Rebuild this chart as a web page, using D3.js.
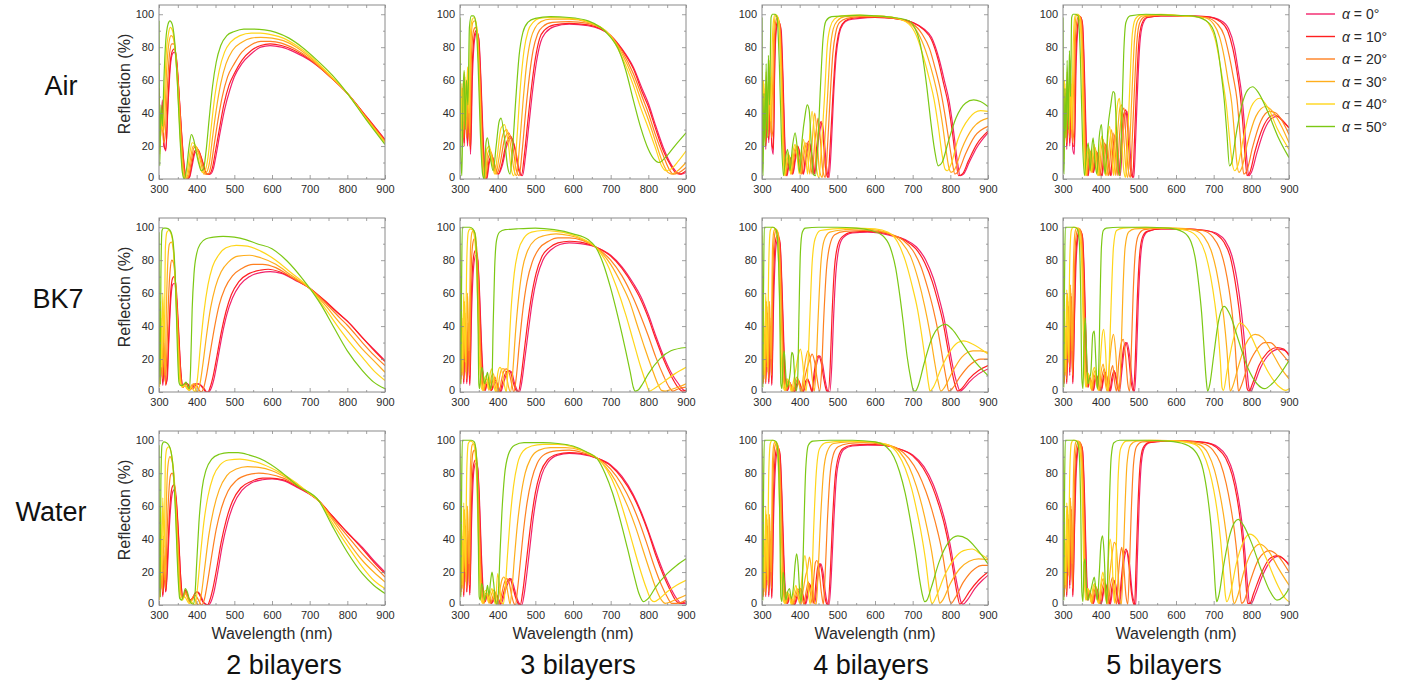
<!DOCTYPE html>
<html>
<head>
<meta charset="utf-8">
<script src="https://cdn.jsdelivr.net/npm/d3@7"></script>
<style>
  html, body { margin: 0; background: #fff; }
  svg text { font-family: Arial, "Liberation Sans", sans-serif; }
</style>
</head>
<body>
<svg id="chart" width="1424" height="683"></svg>
<script>
/* ── Categories / ticks ── */
const media    = ['Air', 'BK7', 'Water'];
const bilayers = ['2 bilayers', '3 bilayers', '4 bilayers', '5 bilayers'];
const angles   = [0, 10, 20, 30, 40, 50];
const xTicks   = [300, 400, 500, 600, 700, 800, 900];
const xMinor   = [350, 450, 550, 650, 750, 850];
const yTicks   = [0, 20, 40, 60, 80, 100];
const yMinor   = [10, 30, 50, 70, 90];

/* ── Series: flat [wavelength, R, wavelength, R, ...], one per angle 0°..50° ── */
const air2 = [
  [300,55, 304,30, 309,48, 313,22, 318,17, 324,45, 330,68, 336,76, 341,77, 347,70, 353,52, 360,28, 367,8, 374,0, 381,1, 388,8, 396,16, 404,17, 412,13, 420,7, 428,3, 436,3, 444,6, 452,15, 462,28, 474,42, 488,54, 500,62, 520,70, 545,76, 570,80, 595,81, 625,80, 660,77, 700,72, 750,63, 800,52, 850,38, 900,24],
  [300,52, 304,28, 309,45, 313,20, 318,18, 324,48, 330,71, 336,78, 341,79, 347,72, 353,53, 360,27, 367,7, 373,0, 380,1, 387,9, 395,17, 403,18, 411,14, 419,8, 427,3, 434,3, 442,7, 450,17, 460,30, 472,45, 486,57, 500,64, 520,72, 545,78, 570,81, 595,82, 625,81, 660,78, 700,72.5, 750,63, 800,52, 850,38, 900,23.5],
  [300,48, 304,25, 308,42, 312,22, 316,25, 322,55, 328,76, 334,82, 339,82, 345,75, 352,55, 359,27, 366,6, 372,0, 379,2, 386,11, 393,19, 400,19, 408,15, 416,8, 423,3, 430,3, 438,8, 446,20, 456,35, 468,50, 482,62, 500,70, 520,77, 545,81.5, 570,83.5, 595,83.5, 625,82.5, 660,79, 700,73, 750,63, 800,52, 850,37.5, 900,23],
  [300,45, 303,22, 307,40, 311,28, 315,35, 320,65, 326,82, 332,87, 337,86, 343,78, 350,57, 357,27, 364,5, 370,0, 377,3, 384,13, 391,20, 398,20, 406,15, 413,8, 419,3, 426,4, 434,10, 442,25, 452,42, 464,58, 478,70, 495,78, 520,83, 545,85.5, 570,86, 600,85.5, 630,84, 665,80, 700,74, 750,63.5, 800,52, 850,37, 900,22.5],
  [300,42, 302,15, 306,38, 310,30, 314,48, 319,75, 325,88, 330,92, 336,90, 342,81, 349,58, 356,27, 363,4, 369,0, 375,4, 382,16, 388,22, 395,21, 402,15, 409,8, 415,4, 422,5, 430,13, 438,30, 448,50, 460,66, 474,77, 490,83, 515,87, 545,88.5, 570,88.5, 600,87.5, 630,85.5, 665,81, 700,75, 750,64, 800,52, 850,36.5, 900,22],
  [300,96, 302,8, 305,45, 309,32, 313,60, 318,84, 324,94, 329,96, 335,94, 341,85, 348,62, 355,28, 362,4, 367,0, 373,6, 380,20, 386,27, 392,24, 399,16, 406,9, 412,5, 418,6, 425,17, 433,36, 442,56, 452,71, 464,81, 480,87, 500,89.5, 525,91, 550,91, 580,90.5, 610,89, 645,85.5, 680,80, 720,72, 760,63, 800,52, 850,36, 900,21],
];

const air3 = [
  [300,70, 303,35, 307,55, 311,22, 315,48, 320,20, 324,42, 328,15, 333,62, 339,85, 344,89, 350,85, 356,58, 362,22, 367,4, 371,0, 378,10, 386,13, 394,7, 402,3, 412,8, 424,20, 436,25, 447,18, 457,6, 466,2, 474,14, 483,33, 493,54, 503,71, 514,83, 528,89, 550,92.5, 590,94, 640,93, 700,87, 730,79, 760,68, 785,54, 800,46, 820,32, 840,19, 860,9, 876,4, 888,3, 900,4],
  [300,68, 303,32, 307,52, 311,20, 315,50, 320,22, 324,45, 328,18, 332,65, 338,87, 343,90, 349,86, 355,60, 361,22, 366,4, 370,0, 377,11, 385,14, 393,7, 401,3, 411,9, 422,21, 434,26, 445,19, 455,6, 463,2, 471,15, 480,35, 490,56, 500,73, 511,85, 525,90.5, 550,93.5, 590,94.5, 640,93.5, 700,87, 730,78.5, 760,67, 785,52, 800,44, 820,30, 840,17, 860,8, 874,3.5, 885,3, 900,5],
  [300,72, 303,30, 306,55, 310,25, 314,55, 318,25, 322,52, 326,20, 330,72, 336,90, 341,92, 347,88, 353,62, 359,24, 364,4, 368,0, 375,13, 383,16, 391,8, 398,3, 407,10, 418,24, 429,28, 440,20, 449,6, 457,2, 465,17, 474,40, 484,62, 494,78, 506,88, 520,92.5, 545,95, 590,95.5, 640,94.5, 700,87, 730,77.5, 760,64, 785,49, 800,40, 820,26, 840,14, 855,6, 866,3, 878,3.5, 900,7],
  [300,75, 302,25, 305,58, 309,30, 313,62, 317,30, 321,60, 325,28, 329,82, 334,95, 339,96, 345,91, 351,65, 357,25, 362,4, 366,0, 373,15, 380,18, 388,9, 395,3, 403,12, 414,27, 424,30, 434,21, 443,6, 450,2, 458,20, 467,46, 477,70, 488,85, 500,92, 515,95.5, 540,97, 590,97, 640,95, 700,87, 730,76, 760,61, 785,45, 800,36, 820,22, 838,10, 852,4, 862,3, 878,5, 900,10],
  [300,78, 302,20, 305,55, 308,35, 312,65, 316,38, 320,68, 324,40, 328,90, 333,97, 338,98, 344,93, 350,67, 356,25, 361,4, 365,0, 371,18, 378,20, 385,10, 392,3, 399,14, 409,31, 418,33, 428,22, 436,6, 443,2, 451,24, 460,55, 470,78, 481,90, 494,95, 510,97.5, 540,98, 590,97.5, 640,95.5, 700,86.5, 730,74, 760,57, 780,43, 800,31, 820,18, 835,8, 847,5, 860,6, 880,11, 900,17],
  [300,98, 302,15, 305,2, 308,50, 311,66, 314,30, 317,60, 321,45, 325,92, 330,99, 336,99, 342,95, 348,70, 354,28, 360,3, 364,0, 369,22, 373,25, 380,14, 388,5, 396,20, 404,35, 409,37, 418,25, 426,8, 433,3, 440,20, 448,48, 457,75, 467,89, 480,95, 500,97.5, 540,98.5, 590,98, 640,96, 700,86, 720,79, 740,66, 760,48, 780,31, 800,18, 815,12, 828,10, 845,13, 870,20, 900,28],
];

const air4 = [
  [300,60, 303,20, 306,50, 310,18, 314,45, 318,22, 322,55, 326,20, 330,15, 334,70, 339,92, 345,95, 351,90, 356,60, 361,20, 366,2, 370,6, 376,12, 382,3, 389,12, 396,19, 403,12, 410,3, 418,14, 426,22, 433,14, 440,3, 447,18, 454,30, 460,34, 466,22, 472,6, 478,1, 484,20, 490,50, 497,75, 505,88, 515,94, 530,96.5, 560,97.5, 600,98, 650,97.5, 700,95, 730,91, 750,86, 770,73, 785,59, 797,47, 808,30, 818,12, 826,2, 835,3, 850,10, 870,19, 900,28],
  [300,58, 303,22, 306,52, 310,20, 314,48, 318,24, 322,58, 326,22, 330,18, 334,75, 338,93, 343,96, 349,92, 355,62, 360,22, 365,2, 369,7, 375,13, 381,3, 388,13, 395,20, 402,13, 409,3, 416,15, 424,23, 431,15, 438,3, 445,19, 452,31, 457,35, 463,23, 469,6, 475,1, 481,20, 488,50, 495,75, 503,88, 513,94, 530,97, 560,98, 600,98, 650,97.5, 700,95, 730,90.5, 750,84.5, 768,72, 782,58, 794,46, 805,29, 815,11, 822,2, 832,3, 848,11, 870,21, 900,29],
  [300,62, 302,25, 305,55, 309,22, 313,52, 317,26, 321,62, 325,25, 329,30, 333,85, 337,96, 341,98, 347,94, 353,64, 358,22, 363,2, 367,8, 373,14, 379,3, 386,14, 393,20, 399,12, 405,3, 412,16, 420,22, 427,14, 433,3, 440,22, 446,33, 449,37, 455,24, 461,6, 468,1, 474,20, 481,50, 488,76, 496,89, 506,95, 525,97.5, 560,98.5, 600,98.5, 650,97.5, 700,94, 725,88, 745,79, 760,67, 773,55, 785,40, 797,22, 806,9, 812,3, 822,5, 840,15, 865,26, 900,32],
  [300,65, 302,22, 305,58, 308,25, 312,58, 316,30, 320,68, 324,28, 328,55, 332,92, 336,99, 340,99, 345,95, 351,66, 356,22, 361,2, 365,9, 371,15, 377,3, 384,15, 391,20, 397,12, 403,3, 409,17, 415,22, 421,14, 427,3, 434,25, 440,40, 446,27, 452,6, 460,1, 466,20, 474,50, 481,78, 489,91, 500,96, 520,98.5, 560,99, 600,99, 650,98, 700,93, 720,86, 740,74, 755,62, 767,50, 778,35, 789,17, 796,7, 802,4, 812,6, 830,18, 860,31, 900,37],
  [300,70, 302,15, 304,60, 307,30, 311,65, 315,35, 319,72, 323,35, 327,80, 331,97, 335,100, 340,99, 344,96, 350,68, 355,22, 360,2, 364,10, 370,16, 376,3, 382,16, 388,21, 394,12, 399,3, 405,18, 410,24, 416,14, 421,3, 427,28, 433,41, 439,28, 445,6, 451,1, 458,20, 466,50, 473,80, 481,92, 492,97, 510,99, 550,99.5, 600,99, 650,98, 690,94, 710,87, 730,73, 745,60, 757,48, 768,32, 778,15, 786,6, 792,5, 802,9, 820,24, 850,37, 880,41.5, 900,41],
  [300,98, 301,10, 303,2, 305,52, 308,20, 311,70, 314,25, 317,75, 320,45, 324,98, 328,100, 334,100, 340,98, 346,70, 352,22, 357,2, 362,12, 368,18, 374,5, 381,20, 388,28, 394,18, 400,4, 407,25, 414,38, 420,45, 425,42, 431,20, 436,3, 442,2, 448,20, 455,55, 462,85, 470,96, 485,98.5, 520,99, 560,99.5, 600,99, 650,98, 690,96, 705,92, 718,84, 728,72, 738,55, 748,35, 758,18, 768,8, 778,10, 795,23, 815,37, 840,46, 862,48, 880,47, 900,44],
];

const air5 = [
  [300,55, 303,22, 306,50, 310,18, 314,48, 318,20, 322,50, 326,18, 330,15, 335,70, 341,94, 347,98, 352,94, 357,65, 362,22, 367,2, 371,10, 376,15, 381,4, 386,10, 392,15, 398,6, 404,2, 410,14, 416,20, 422,10, 428,2, 434,16, 440,26, 446,16, 452,2, 458,22, 464,38, 470,41, 476,25, 482,6, 488,1, 493,25, 498,55, 504,82, 512,94, 525,98, 560,99, 620,99, 680,98.5, 720,96, 740,91, 755,80, 765,66, 775,50, 782,32, 788,12, 793,2, 800,4, 815,16, 835,30, 855,37, 868,38, 885,35, 900,31],
  [300,52, 303,24, 306,52, 310,20, 314,50, 318,22, 322,52, 326,20, 330,20, 334,75, 340,95, 346,98.5, 351,95, 356,66, 361,22, 366,2, 370,11, 375,16, 380,4, 385,11, 391,16, 397,6, 403,2, 408,15, 414,21, 420,10, 426,2, 432,17, 438,27, 444,16, 449,2, 455,24, 461,39, 467,42, 473,25, 479,6, 485,1, 490,25, 495,55, 501,82, 509,94, 522,98, 560,99, 620,99, 680,98.5, 718,95.5, 737,90, 751,79, 762,65, 771,50, 778,32, 784,12, 789,2, 796,4, 810,17, 830,31, 850,38, 862,39, 880,36, 900,31],
  [300,58, 302,25, 305,55, 309,22, 313,55, 317,25, 321,58, 325,22, 329,30, 333,85, 338,97, 343,99, 349,96, 354,68, 359,22, 364,2, 368,12, 373,17, 378,4, 383,12, 389,17, 394,6, 399,2, 405,16, 411,22, 416,10, 421,2, 427,18, 433,28, 439,16, 444,2, 450,26, 456,40, 462,43, 467,26, 473,6, 479,1, 484,25, 490,56, 496,83, 504,95, 518,98.5, 560,99.5, 620,99, 680,98, 710,94, 728,87, 741,75, 752,62, 762,48, 769,30, 775,12, 780,3, 788,5, 803,19, 825,35, 848,41, 865,40, 885,34, 900,27],
  [300,62, 302,20, 305,58, 308,25, 312,60, 316,28, 320,65, 324,25, 328,55, 332,93, 336,99.5, 341,99.5, 346,97, 352,70, 357,22, 362,2, 366,13, 371,18, 376,4, 381,13, 386,19, 391,6, 396,2, 401,17, 407,24, 412,10, 417,2, 423,20, 429,30, 434,16, 439,2, 445,28, 451,43, 456,45, 461,27, 467,6, 472,1, 478,25, 484,57, 490,85, 498,96, 512,99, 560,99.5, 620,99, 675,98, 700,94, 716,86, 728,74, 738,60, 748,46, 755,28, 761,11, 767,4, 775,7, 790,22, 812,38, 838,44, 860,40, 880,32, 900,22],
  [300,68, 302,12, 304,60, 307,30, 311,65, 315,32, 319,72, 323,30, 327,80, 331,98, 335,100, 340,100, 344,98, 350,72, 355,22, 360,2, 364,14, 369,19, 374,4, 378,14, 383,21, 388,7, 393,2, 398,18, 403,26, 408,11, 413,2, 418,22, 424,32, 429,17, 434,2, 440,32, 446,47, 450,49, 455,30, 461,6, 466,1, 472,26, 478,60, 484,88, 492,97, 505,99.5, 560,100, 620,99, 665,98, 690,93, 705,84, 716,71, 726,57, 735,42, 742,25, 749,10, 756,5, 764,8, 780,26, 800,44, 822,49, 845,43, 870,30, 900,18],
  [300,98, 301,8, 303,3, 305,55, 308,25, 311,72, 314,30, 317,78, 320,50, 323,98, 327,100, 333,100, 340,99, 346,75, 352,22, 357,2, 362,15, 367,22, 372,5, 376,18, 380,25, 385,10, 390,3, 396,25, 402,33, 407,16, 412,3, 419,30, 427,45, 433,53, 437,52, 442,30, 447,5, 451,2, 456,35, 461,75, 467,95, 478,99, 520,100, 580,99.5, 640,99, 680,96, 700,90, 712,78, 720,64, 728,48, 735,28, 742,8, 748,10, 758,25, 775,45, 790,54, 803,56, 820,52, 845,40, 870,26, 900,13],
];

const bk72 = [
  [300,30, 303,5, 306,20, 310,4, 314,15, 318,5, 322,8, 326,30, 331,55, 336,65, 341,66, 346,58, 352,35, 358,12, 364,3, 370,5, 376,5, 383,2, 390,2, 397,4, 405,5, 412,4, 420,2, 427,0, 432,0, 438,2, 446,8, 456,20, 468,35, 480,47, 495,57, 515,65, 540,70, 570,72.5, 595,73, 625,72, 660,68, 700,63, 740,55, 780,47, 800,43, 840,33, 870,26, 900,19],
  [300,25, 303,8, 306,30, 310,6, 314,20, 318,4, 322,12, 326,35, 331,60, 336,69, 340,70, 346,62, 352,38, 358,12, 364,3, 370,5, 376,5, 383,2, 390,3, 396,5, 402,5, 410,4, 418,2, 425,0, 430,0, 436,3, 444,10, 454,22, 466,37, 478,49, 492,59, 512,67, 540,72, 570,74, 590,74.5, 620,73, 660,68.5, 700,63, 740,55.5, 780,47, 800,43, 840,33, 870,25.5, 900,18.5],
  [300,20, 302,5, 305,35, 309,8, 313,30, 317,5, 321,25, 325,55, 330,75, 334,80, 339,78, 345,62, 351,35, 357,10, 363,3, 369,5, 375,4, 381,1, 387,3, 393,5, 400,4, 407,1, 412,0, 418,2, 426,10, 436,24, 448,40, 460,53, 475,63, 495,70.5, 520,75, 550,77.5, 575,77.5, 610,75.5, 650,70, 700,63, 740,54.5, 780,45, 800,40.5, 840,30, 870,22.5, 900,16],
  [300,15, 302,4, 305,45, 308,10, 312,40, 316,10, 320,55, 324,82, 328,90, 333,91, 338,86, 344,65, 350,33, 356,8, 362,3, 368,4, 374,3, 380,1, 386,4, 392,5, 398,1, 402,0, 408,4, 416,16, 426,34, 437,51, 450,64, 465,73, 485,79, 510,82.5, 540,83, 570,81.5, 610,77.5, 650,71, 700,63, 740,53, 780,42, 800,37, 840,26, 870,19, 900,12],
  [300,10, 302,3, 304,55, 307,15, 310,60, 314,30, 317,88, 321,97, 326,98, 332,96, 338,88, 344,62, 350,28, 356,6, 362,3, 368,4, 374,2, 380,1, 386,3, 392,1, 396,0, 402,8, 410,28, 419,48, 430,65, 442,76, 458,83, 478,87.5, 505,89, 535,88.5, 570,85.5, 610,80, 650,72.5, 700,63, 740,51, 780,38, 800,32, 840,21, 870,13, 900,7],
  [300,97, 301,20, 303,5, 305,70, 308,98, 312,99.5, 318,99.5, 325,99, 332,97, 338,90, 344,65, 349,25, 353,6, 357,4, 362,4, 367,5, 372,6, 377,3, 381,2, 384,15, 388,50, 393,72, 400,84, 410,90, 425,93, 445,94, 470,94.5, 500,94, 530,92.5, 560,90, 600,87, 640,79.5, 680,69, 700,63, 730,53, 760,41, 800,25, 840,13, 870,6, 900,2],
];

const bk73 = [
  [300,50, 303,8, 306,35, 310,5, 314,40, 318,5, 322,30, 326,4, 331,50, 337,78, 342,83, 347,80, 352,60, 357,30, 362,8, 367,1, 372,5, 378,4, 384,1, 390,4, 396,6, 402,3, 408,0, 414,4, 422,10, 430,13, 437,12, 444,6, 452,1, 458,0, 464,6, 472,20, 482,38, 492,55, 505,70, 520,80, 540,86, 565,89.5, 590,90.5, 620,90, 660,88, 700,83, 730,76, 760,66, 780,58, 800,47, 820,34, 840,22, 860,12, 880,5, 895,1, 900,0.5],
  [300,45, 303,10, 306,40, 310,6, 314,42, 318,6, 322,35, 326,5, 330,58, 336,82, 341,86, 346,83, 351,62, 356,30, 361,8, 366,1, 371,5, 377,5, 383,1, 389,5, 395,7, 401,3, 406,0, 412,5, 420,11, 428,13, 434,12, 441,6, 449,1, 455,0, 461,7, 469,22, 479,41, 489,57, 502,72, 517,82, 537,87.5, 560,90.5, 590,91.5, 620,91, 660,88, 700,82.5, 730,75, 760,64.5, 780,56, 800,45, 820,32, 840,20, 860,10, 878,3, 890,0.5, 900,1],
  [300,40, 302,5, 305,45, 309,8, 313,48, 317,8, 321,42, 325,10, 329,70, 334,90, 338,93, 343,90, 349,66, 354,30, 359,7, 364,1, 369,6, 375,6, 381,1, 387,7, 393,9, 399,3, 404,0, 410,7, 417,13, 423,14, 430,12, 437,5, 443,0, 449,8, 457,28, 467,50, 478,67, 492,79, 510,87, 535,91.5, 560,93.5, 590,93.5, 625,92, 660,88, 700,80, 730,70.5, 760,57, 780,46, 800,34, 820,21, 840,10, 855,3, 865,0.5, 880,2, 900,3],
  [300,35, 302,6, 304,50, 308,10, 312,55, 316,12, 320,60, 324,25, 328,88, 332,97, 336,98, 341,95, 347,68, 352,30, 357,6, 362,1, 367,7, 372,8, 377,1, 383,9, 389,11, 394,3, 399,0, 405,9, 411,14, 417,14, 423,10, 429,3, 434,0, 440,12, 447,35, 456,58, 466,75, 480,86, 500,92.5, 525,95, 555,96, 590,95, 625,92.5, 660,88, 700,77.5, 730,65, 750,55, 770,41, 790,27, 810,14, 825,5, 835,1, 845,0.5, 860,1.5, 880,3, 900,5],
  [300,90, 301,20, 303,55, 306,12, 310,60, 314,18, 318,80, 322,97, 327,99, 333,98.5, 339,93, 345,70, 350,30, 355,5, 360,1, 365,8, 370,10, 375,2, 380,11, 385,14, 390,4, 395,0, 400,11, 406,15, 412,12, 418,4, 423,0, 428,18, 435,48, 444,72, 455,86, 470,93.5, 490,97, 520,98, 555,97.5, 590,96, 625,93, 660,88, 690,78, 715,64, 740,47, 760,31, 780,15, 795,5, 803,0.5, 815,2, 840,6, 870,11, 900,15],
  [300,100, 302,5, 304,60, 306,100, 310,100, 318,100, 326,100, 334,99, 340,96, 345,75, 348,40, 350,5, 352,2, 355,10, 358,15, 361,12, 365,5, 369,8, 373,12, 377,6, 381,2, 385,8, 388,40, 392,75, 397,92, 405,97, 420,98.5, 450,99, 500,99.5, 550,98.5, 600,96, 640,92.5, 660,88, 680,78, 700,63, 720,45, 740,25, 752,12, 760,3, 765,0.5, 772,1, 785,5, 800,11, 830,20, 860,25, 900,27],
];

const bk74 = [
  [300,55, 303,5, 306,30, 310,5, 314,45, 318,5, 322,35, 326,4, 331,55, 337,88, 342,93, 348,90, 353,65, 358,30, 363,5, 368,1, 374,5, 380,3, 386,0, 392,3, 398,6, 404,3, 410,0, 416,5, 422,7, 428,4, 434,0, 440,10, 446,18, 453,22, 460,18, 467,8, 474,1, 480,0, 485,15, 490,45, 496,72, 504,87, 515,93.5, 540,96.5, 580,97, 610,96.5, 640,95, 680,92.5, 710,88, 735,80, 755,69, 770,57, 783,45, 795,30, 807,15, 818,5, 826,0.5, 835,2, 850,6, 875,11, 900,14],
  [300,50, 303,6, 306,35, 310,6, 314,48, 318,6, 322,40, 326,5, 330,62, 336,92, 341,95, 347,92, 352,67, 357,30, 362,5, 367,1, 373,6, 379,3, 385,0, 391,4, 397,7, 403,3, 409,0, 415,6, 421,8, 427,4, 433,0, 438,11, 444,19, 450,22, 457,18, 464,8, 471,1, 476,0, 481,15, 486,47, 492,74, 500,88, 512,94, 540,97, 580,97.5, 610,97, 640,95.5, 680,92, 708,87, 732,78.5, 752,67, 767,55, 780,43, 792,28, 803,14, 813,4, 820,0.5, 830,2, 850,8, 875,13, 900,16],
  [300,45, 302,5, 305,40, 309,6, 313,52, 317,8, 321,45, 325,10, 329,75, 334,96, 338,98, 344,95, 350,70, 355,30, 360,5, 365,1, 371,6, 377,4, 383,0, 389,5, 395,8, 401,3, 407,0, 413,8, 419,14, 426,19, 433,23, 440,18, 447,7, 453,0.5, 458,12, 464,45, 471,74, 480,89, 493,95.5, 520,97.5, 570,98, 610,97.5, 640,96, 675,92, 700,86, 722,76, 740,63, 755,50, 768,36, 780,20, 790,7, 796,0.5, 805,2, 825,9, 855,17, 880,20, 900,20],
  [300,40, 302,6, 304,45, 308,8, 312,55, 316,12, 320,55, 324,20, 328,88, 332,98, 336,99, 342,97, 348,72, 353,30, 358,5, 363,1, 369,7, 375,5, 381,0, 387,6, 393,9, 399,4, 404,0, 410,10, 416,20, 422,25, 428,20, 434,7, 439,0.5, 443,12, 449,45, 456,77, 465,92, 480,97, 520,98.5, 570,99, 610,98, 640,96, 670,91, 695,82, 715,68, 732,52, 745,37, 757,20, 767,7, 775,0.5, 785,3, 805,12, 830,21, 860,25, 880,25, 900,24],
  [300,95, 301,20, 303,50, 306,10, 310,60, 314,15, 318,78, 322,98, 327,100, 333,99.5, 339,96, 345,73, 350,30, 355,5, 360,1, 366,8, 372,6, 378,0, 384,7, 390,14, 396,22, 402,26, 408,18, 413,5, 417,0.5, 421,12, 427,45, 433,78, 441,93, 455,98, 490,99, 540,99.5, 600,99, 635,97, 660,91, 680,80, 698,65, 713,50, 725,33, 735,17, 742,5, 746,0.5, 755,3, 775,14, 800,25, 820,30, 835,31, 860,29, 900,23],
  [300,100, 302,3, 304,60, 306,100, 312,100, 320,100, 330,100, 338,98, 343,85, 347,50, 350,5, 353,2, 356,20, 359,25, 362,15, 366,3, 370,5, 375,12, 379,24, 383,22, 387,8, 391,0.5, 395,10, 398,45, 402,85, 407,97, 415,99.5, 450,100, 500,100, 550,99.5, 590,98, 620,95, 640,88, 655,75, 665,60, 675,42, 685,22, 695,8, 702,1, 707,0.5, 715,4, 730,17, 750,32, 770,39.5, 787,41, 805,38, 830,30, 860,20, 900,10],
];

const bk75 = [
  [300,40, 303,5, 306,30, 310,5, 314,50, 318,10, 322,55, 326,5, 330,40, 335,80, 341,95, 347,97, 352,94, 357,68, 362,25, 367,3, 371,8, 376,6, 381,1, 386,7, 391,9, 396,3, 402,1, 408,8, 414,11, 420,5, 426,0.5, 432,8, 438,12, 444,6, 450,0.5, 456,12, 463,26, 470,30, 477,22, 484,6, 490,0.5, 495,20, 500,55, 506,82, 514,94, 526,97.5, 560,99, 620,99, 680,98, 710,96, 730,92, 748,83, 762,68, 772,52, 780,35, 788,15, 794,2, 799,0.5, 808,5, 825,15, 848,23, 874,26, 890,25, 900,23],
  [300,38, 303,6, 306,32, 310,6, 314,52, 318,12, 322,58, 326,6, 330,45, 334,84, 340,96, 346,98, 351,95, 356,70, 361,25, 366,3, 370,9, 375,6, 380,1, 385,8, 390,10, 395,3, 401,1, 407,9, 413,12, 419,5, 424,0.5, 430,9, 436,13, 442,6, 448,0.5, 454,13, 461,27, 467,30, 474,22, 481,6, 487,0.5, 492,20, 497,55, 503,82, 511,94, 523,97.5, 560,99, 620,99, 680,98, 708,95.5, 727,91, 744,82, 757,67, 767,51, 775,34, 783,15, 789,2, 794,0.5, 803,5, 820,16, 843,24, 868,27, 886,26, 900,22],
  [300,35, 302,5, 305,38, 309,8, 313,55, 317,15, 321,60, 325,10, 329,55, 333,90, 338,98, 344,99, 349,96, 354,72, 359,25, 364,3, 368,10, 373,7, 378,1, 383,9, 388,11, 393,3, 398,1, 404,10, 410,14, 415,5, 420,0.5, 426,11, 432,16, 437,6, 442,0.5, 448,18, 455,30, 460,32, 466,22, 472,5, 477,0.5, 481,22, 486,58, 492,85, 500,95, 515,98.5, 560,99.5, 620,99, 670,98, 698,94, 716,87, 730,76, 741,62, 750,46, 757,28, 762,10, 766,0.5, 772,3, 788,14, 812,25, 835,30, 850,30, 870,26, 900,18],
  [300,30, 302,6, 304,45, 308,10, 312,60, 316,18, 320,65, 324,25, 328,80, 332,97, 336,99.5, 341,99.5, 346,97, 352,74, 357,25, 362,3, 366,11, 371,8, 376,1, 381,10, 386,13, 391,4, 396,1, 401,12, 407,17, 412,6, 417,0.5, 423,16, 429,30, 434,35, 440,24, 445,6, 450,0.5, 454,22, 459,60, 465,88, 474,97, 490,99, 540,99.5, 600,99.5, 650,98, 675,94, 693,86, 706,75, 717,61, 727,45, 735,26, 740,10, 744,0.5, 750,3, 765,15, 785,29, 810,35, 830,33, 855,24, 880,14, 900,8],
  [300,90, 301,15, 303,50, 306,12, 310,62, 314,20, 318,80, 322,98, 327,100, 333,100, 339,99, 344,96, 350,76, 355,25, 360,3, 364,12, 369,10, 374,2, 379,12, 384,15, 389,5, 394,1, 399,18, 404,34, 408,38, 413,25, 417,5, 420,0.5, 423,20, 428,55, 434,88, 442,98, 460,99.5, 520,100, 580,99.5, 630,98, 660,93, 678,84, 692,70, 703,54, 712,36, 718,18, 722,3, 726,1, 735,12, 750,30, 770,42, 790,38, 815,26, 845,12, 875,3, 890,1, 900,2],
  [300,100, 302,3, 304,65, 306,100, 312,100, 320,100, 330,100, 338,99, 343,92, 347,60, 350,8, 353,2, 356,30, 359,45, 362,28, 366,5, 370,8, 374,12, 379,35, 383,37, 387,20, 391,2, 395,15, 398,50, 402,88, 407,98, 415,99.5, 450,100, 520,100, 580,99.5, 620,97, 640,91, 652,80, 660,66, 668,48, 674,28, 680,8, 684,0.5, 690,5, 700,22, 712,42, 728,52, 745,46, 765,32, 790,15, 815,5, 835,2, 855,5, 880,12, 900,19],
];

const water2 = [
  [300,30, 303,5, 306,25, 310,5, 314,20, 318,8, 322,20, 327,45, 332,62, 337,69, 341,70, 346,62, 352,40, 358,15, 364,4, 370,9, 376,6, 382,3, 389,4, 396,7, 403,8, 410,6, 418,2, 425,0.5, 432,0, 438,2, 446,8, 456,20, 468,36, 482,50, 498,61, 520,69.5, 545,74, 575,76, 600,76.5, 630,75.5, 670,71, 725,63, 760,54, 800,44, 840,35, 870,27, 900,20],
  [300,28, 303,7, 306,28, 310,6, 314,22, 318,8, 322,25, 327,52, 332,68, 337,72.5, 341,73, 346,64, 352,42, 358,15, 364,4, 370,9, 376,6, 382,3, 389,4, 395,7, 401,8, 408,6, 416,2, 423,0.5, 429,0, 435,3, 443,10, 453,22, 465,38, 479,52, 495,63, 517,71, 545,75, 575,77, 595,77, 630,76, 670,71.5, 725,63, 760,54, 800,44, 840,34, 870,26, 900,19],
  [300,22, 302,5, 305,35, 309,8, 313,30, 317,10, 321,40, 326,68, 331,79, 335,80, 340,75, 346,56, 352,30, 358,8, 364,4, 370,8, 376,5, 382,2, 388,4, 394,6, 400,5, 407,2, 413,0, 420,3, 429,14, 440,30, 452,46, 466,59, 483,69, 505,75.5, 535,79, 565,80, 590,79.5, 630,77, 670,72, 725,63, 760,53, 800,42, 840,31, 870,24, 900,17],
  [300,15, 302,5, 304,45, 308,10, 312,42, 316,15, 320,65, 324,85, 329,90, 334,88, 340,78, 346,55, 352,25, 358,6, 364,4, 370,7, 376,4, 382,1, 388,3, 394,4, 400,1, 405,0, 412,6, 421,22, 432,42, 445,58, 460,70, 480,78.5, 505,82.5, 535,84, 565,83.5, 600,81.5, 640,77, 680,71, 725,63, 760,52, 800,39, 840,27, 870,20, 900,14],
  [300,10, 302,3, 304,60, 307,18, 310,65, 314,35, 317,88, 321,95, 326,96, 332,93, 338,82, 344,58, 350,25, 356,5, 362,3, 368,5, 374,3, 380,1, 386,2, 392,0.5, 396,0, 402,10, 410,30, 419,50, 430,66, 444,78, 462,85, 485,88, 515,88.5, 545,87.5, 580,85, 620,80.5, 665,74, 700,67.5, 725,63, 760,50, 800,36, 840,23, 870,15, 900,10],
  [300,97, 301,15, 303,5, 305,75, 308,97, 313,99, 320,98.5, 326,97, 332,93, 338,82, 344,55, 350,20, 355,4, 360,3, 365,6, 370,10, 375,8, 380,4, 386,1, 391,0.5, 395,5, 400,25, 406,50, 414,70, 425,82, 440,88.5, 460,91.5, 485,92.5, 510,92.5, 540,91, 580,87.5, 620,81.5, 670,72, 725,63, 760,48, 800,32, 840,19, 870,12, 900,7],
];

const water3 = [
  [300,50, 303,8, 306,35, 310,5, 314,45, 318,8, 322,35, 326,6, 331,52, 337,82, 342,86, 347,83, 352,62, 357,30, 362,8, 367,2, 372,6, 378,5, 384,1, 390,3, 396,6, 402,4, 408,0.5, 415,4, 422,10, 429,14, 435,16, 442,12, 450,5, 457,1, 464,0, 470,6, 478,20, 486,36, 494,52, 504,67, 517,79, 535,87, 560,91, 590,92, 620,91.5, 665,89, 700,85, 730,78, 760,67, 780,57, 800,45, 820,32, 840,20, 860,10, 875,4, 888,1, 900,1],
  [300,48, 303,10, 306,38, 310,6, 314,48, 318,8, 322,38, 326,7, 330,58, 336,85, 341,88, 346,85, 351,64, 356,30, 361,8, 366,2, 371,6, 377,6, 383,1, 389,4, 395,7, 401,4, 406,0.5, 413,5, 420,11, 427,15, 432,16, 439,12, 447,5, 454,1, 460,0, 466,7, 474,22, 482,38, 490,53, 500,68, 513,80, 532,88, 558,91.5, 590,92.5, 620,92, 665,89, 700,84.5, 730,77, 760,66, 780,56, 800,44, 820,30, 840,18, 858,9, 872,3, 884,1, 900,2],
  [300,42, 302,6, 305,42, 309,8, 313,52, 317,10, 321,45, 325,12, 329,70, 334,92, 338,94, 343,91, 349,68, 354,30, 359,7, 364,1, 369,6, 375,6, 381,1, 387,5, 393,8, 399,4, 404,0.5, 410,6, 417,13, 424,16, 430,14, 437,6, 443,1, 447,0, 453,10, 461,28, 469,46, 478,62, 490,76, 505,86, 525,91.5, 555,93.5, 590,94, 625,92.5, 665,89, 700,82.5, 730,73, 755,62, 775,51, 795,38, 815,24, 835,12, 850,5, 862,1, 875,1, 900,3],
  [300,38, 302,8, 304,48, 308,10, 312,58, 316,14, 320,60, 324,25, 328,86, 332,97, 336,98, 341,96, 347,72, 352,30, 357,6, 362,1, 367,7, 372,7, 377,1, 383,6, 389,9, 395,4, 399,0.5, 405,8, 411,15, 416,17, 422,14, 428,6, 433,0.5, 438,10, 445,30, 452,48, 461,65, 473,80, 488,89, 510,94, 540,95.5, 580,95.5, 620,94, 665,89, 700,80, 725,70, 745,60, 765,48, 785,34, 805,20, 822,9, 835,3, 845,1, 860,2, 880,4, 900,6],
  [300,92, 301,18, 303,55, 306,12, 310,62, 314,20, 318,82, 322,98, 327,99.5, 333,99, 339,95, 345,72, 350,30, 355,5, 360,1, 365,8, 370,9, 375,2, 380,7, 385,10, 390,4, 394,0.5, 400,19, 405,12, 410,2, 415,0.5, 420,10, 426,30, 433,52, 442,72, 453,86, 468,93.5, 490,96.5, 520,97.5, 560,97.5, 600,96, 640,92, 665,89, 690,82, 715,70, 735,56, 755,40, 775,24, 795,10, 808,3, 816,2, 830,4, 850,8, 875,12, 900,15],
  [300,100, 302,5, 304,60, 306,100, 312,100, 320,100, 330,100, 338,99, 344,90, 348,50, 351,5, 354,3, 357,13, 361,10, 365,3, 369,6, 373,12, 377,6, 381,14, 385,20, 389,14, 394,3, 398,0.5, 402,8, 406,30, 411,55, 418,78, 428,91, 445,97, 470,98.5, 520,98.5, 560,98, 600,96.5, 635,93, 665,88.5, 685,80, 705,68, 725,52, 745,34, 762,18, 775,7, 787,2, 800,4, 820,11, 850,19, 875,24, 900,28],
];

const water4 = [
  [300,55, 303,5, 306,30, 310,5, 314,45, 318,5, 322,35, 326,4, 331,55, 337,88, 342,94, 348,91, 353,66, 358,30, 363,5, 368,1, 374,5, 380,3, 386,0, 392,3, 398,7, 404,9, 410,5, 416,0.5, 422,6, 428,12, 434,8, 440,1, 446,12, 451,22, 456,25, 462,20, 468,8, 474,1, 478,0, 484,18, 490,48, 497,76, 506,89, 518,94.5, 540,96.5, 580,97, 620,97, 660,95, 700,91, 730,84, 755,73, 772,62, 787,50, 800,36, 812,20, 822,8, 830,1, 834,0.5, 845,3, 865,10, 885,15, 900,18],
  [300,52, 303,6, 306,35, 310,6, 314,48, 318,6, 322,40, 326,5, 330,62, 336,92, 341,96, 347,93, 352,68, 357,30, 362,5, 367,1, 373,6, 379,3, 385,0, 391,4, 397,8, 403,10, 409,5, 414,0.5, 420,7, 426,13, 432,8, 438,1, 443,13, 448,23, 453,25, 459,20, 465,8, 471,1, 475,0, 481,18, 487,50, 494,77, 503,90, 515,95, 540,97, 580,97.5, 620,97, 660,95, 700,90.5, 728,83, 752,72, 769,61, 784,49, 797,35, 809,19, 818,7, 825,0.5, 833,2, 850,8, 875,15, 900,20],
  [300,48, 302,5, 305,40, 309,6, 313,52, 317,8, 321,45, 325,10, 329,75, 334,96, 338,98, 344,95, 350,70, 355,30, 360,5, 365,1, 371,6, 377,4, 383,0, 389,5, 395,9, 401,10, 406,5, 411,0.5, 417,8, 423,14, 428,8, 433,1, 437,15, 442,26, 446,27, 452,20, 458,7, 463,0.5, 467,15, 473,48, 480,77, 489,91, 502,96, 530,98, 570,98.5, 620,97.5, 660,95, 690,89, 715,80, 735,69, 752,57, 767,44, 780,30, 790,15, 797,4, 802,1, 812,4, 835,14, 865,22, 885,24, 900,24],
  [300,42, 302,6, 304,45, 308,8, 312,55, 316,12, 320,55, 324,20, 328,88, 332,98, 336,99, 342,97, 348,72, 353,30, 358,5, 363,1, 369,7, 375,5, 381,0, 387,6, 393,10, 399,5, 404,0.5, 410,10, 416,18, 421,22, 426,29, 430,24, 435,10, 440,1, 444,0.5, 448,15, 455,50, 463,80, 473,93, 490,98, 530,99, 580,99, 630,97.5, 665,93, 690,84, 710,72, 725,60, 738,47, 750,33, 760,18, 767,6, 772,1, 780,3, 800,13, 825,22, 850,26.5, 875,28, 900,27.5],
  [300,95, 301,20, 303,50, 306,10, 310,60, 314,15, 318,80, 322,98, 327,100, 333,99.5, 339,96, 345,74, 350,30, 355,5, 360,1, 366,8, 372,6, 378,0, 384,7, 390,12, 395,6, 400,1, 405,14, 410,26, 414,30, 419,22, 424,6, 428,0.5, 432,12, 437,45, 444,80, 453,95, 470,98.5, 520,99.5, 580,99, 630,97.5, 660,92, 680,83, 698,70, 712,56, 724,42, 735,26, 743,11, 748,3, 752,1, 762,5, 785,18, 810,28, 835,33, 858,34, 880,31, 900,28],
  [300,100, 302,3, 304,65, 306,100, 312,100, 320,100, 330,100, 338,99, 343,90, 347,55, 350,5, 353,2, 356,20, 359,15, 363,3, 368,8, 373,10, 378,4, 383,10, 388,25, 392,31, 396,24, 400,8, 404,2, 407,12, 411,45, 416,82, 423,97, 435,99.5, 480,100, 540,100, 600,99, 630,96, 650,90, 665,81, 680,68, 695,50, 708,32, 718,16, 726,6, 732,2, 738,3, 750,11, 770,26, 795,38, 820,42, 845,40, 870,34, 900,25],
];

const water5 = [
  [300,35, 303,5, 306,30, 310,5, 314,50, 318,10, 322,55, 326,5, 330,40, 335,80, 341,95, 347,97, 352,94, 357,68, 362,25, 367,3, 371,7, 376,5, 381,1, 386,6, 391,9, 396,3, 402,1, 408,8, 414,12, 420,6, 426,0.5, 432,10, 438,14, 444,7, 450,0.5, 457,15, 464,30, 470,33, 477,24, 484,7, 490,1, 493,0, 497,25, 502,60, 508,86, 516,95.5, 530,98.5, 570,99.5, 630,99.5, 680,98.5, 710,96, 735,90, 752,80, 765,66, 775,50, 783,32, 790,12, 795,1, 800,1, 810,6, 830,18, 852,27, 872,29.5, 890,27, 900,25],
  [300,32, 303,6, 306,32, 310,6, 314,52, 318,12, 322,58, 326,6, 330,45, 334,84, 340,96, 346,98, 351,95, 356,70, 361,25, 366,3, 370,8, 375,5, 380,1, 385,7, 390,10, 395,3, 401,1, 407,9, 413,13, 419,6, 424,0.5, 430,11, 436,15, 442,7, 448,0.5, 455,16, 462,31, 468,34, 475,24, 482,7, 487,1, 490,0, 494,25, 499,60, 505,86, 513,95.5, 527,98.5, 570,99.5, 630,99.5, 680,98.5, 708,95.5, 732,89, 749,79, 762,65, 772,49, 780,31, 786,12, 790,1, 796,1, 806,7, 826,19, 848,28, 868,30, 886,28, 900,24],
  [300,30, 302,5, 305,38, 309,8, 313,55, 317,15, 321,60, 325,10, 329,55, 333,90, 338,98, 344,99, 349,96, 354,72, 359,25, 364,3, 368,9, 373,6, 378,1, 383,8, 388,11, 393,3, 398,1, 404,10, 410,14, 415,6, 420,0.5, 426,12, 432,17, 437,7, 442,0.5, 447,18, 453,32, 456,35, 461,25, 467,6, 472,0.5, 476,20, 481,55, 487,85, 495,96, 510,99, 560,99.5, 620,99.5, 670,98, 698,94, 718,86, 733,74, 745,60, 755,45, 763,28, 769,10, 774,1, 780,2, 795,13, 820,28, 848,33, 870,30, 900,20],
  [300,28, 302,6, 304,45, 308,10, 312,60, 316,18, 320,65, 324,25, 328,80, 332,97, 336,99.5, 341,99.5, 346,97, 352,74, 357,25, 362,3, 366,10, 371,7, 376,1, 381,9, 386,12, 391,4, 396,1, 401,11, 407,16, 412,6, 417,0.5, 424,18, 430,30, 436,38, 441,36, 446,20, 451,3, 455,0.5, 459,20, 464,55, 470,86, 479,97, 495,99.5, 550,100, 610,99.5, 660,97.5, 685,92, 702,82, 716,68, 728,52, 738,34, 746,16, 751,4, 755,1, 763,5, 780,20, 800,32, 823,37, 845,33, 870,23, 900,12],
  [300,88, 301,15, 303,50, 306,12, 310,62, 314,20, 318,80, 322,98, 327,100, 333,100, 339,99, 344,96, 350,76, 355,25, 360,3, 364,10, 369,8, 374,2, 379,10, 384,13, 389,5, 394,1, 400,12, 406,20, 411,12, 416,3, 421,30, 425,40, 430,30, 434,8, 437,1, 441,30, 446,75, 453,95, 468,99.5, 530,100, 600,99.5, 650,97.5, 672,92, 688,82, 700,70, 710,56, 719,38, 726,20, 731,6, 735,2, 745,8, 760,25, 778,38, 795,43, 815,40, 840,28, 870,12, 890,4, 900,2],
  [300,100, 302,3, 304,65, 306,100, 312,100, 320,100, 330,100, 338,99, 343,92, 347,60, 350,8, 353,2, 356,25, 359,28, 362,12, 366,3, 370,6, 375,10, 379,14, 383,17, 387,10, 391,3, 396,18, 401,38, 405,42, 409,32, 413,10, 416,1, 419,20, 423,60, 428,90, 435,98.5, 450,100, 520,100, 580,99.5, 625,97.5, 655,92, 672,82, 684,66, 693,48, 700,27, 705,8, 708,2, 714,6, 725,22, 740,40, 755,50, 765,52, 780,48, 800,38, 825,22, 848,9, 868,3, 885,5, 900,10],
];

const panels = [
  [air2, air3, air4, air5],
  [bk72, bk73, bk74, bk75],
  [water2, water3, water4, water5],
];

/* ── Style / layout ── */
const COLORS = ['#f2226b', '#ff2020', '#ff8020', '#ffae1c', '#ffd61a', '#7cc814'];
const COL_X  = [159, 460, 762, 1063];
const ROW_Y  = [5, 218, 431];
const PW = 226, PH = 174;
const AXIS_CLR = '#8a8a8a';
const TXT_CLR  = '#2a2a2a';

const svg = d3.select('#chart');
const x = d3.scaleLinear().domain([300, 900]).range([0, PW]);
const y = d3.scaleLinear().domain([0, 105.6]).range([PH, 0]);
const line = d3.line()
  .x(d => x(d[0]))
  .y(d => y(d[1]))
  .curve(d3.curveMonotoneX);
const toPts = a => d3.range(0, a.length, 2).map(i => [a[i], a[i + 1]]);

function styleAxis(g) {
  g.select('.domain').remove();
  g.selectAll('.tick line').attr('stroke', AXIS_CLR).attr('stroke-width', 0.8);
  g.selectAll('.tick text')
    .attr('fill', TXT_CLR)
    .attr('font-size', 11)
    .attr('font-family', 'Arial, "Liberation Sans", sans-serif');
}

panels.forEach((row, ri) => row.forEach((series, ci) => {
  const g = svg.append('g').attr('transform', `translate(${COL_X[ci]},${ROW_Y[ri]})`);
  const clipId = `clip-${ri}-${ci}`;
  g.append('clipPath').attr('id', clipId)
    .append('rect').attr('width', PW).attr('height', PH);

  /* curves */
  const plot = g.append('g').attr('clip-path', `url(#${clipId})`);
  series.forEach((s, k) => {
    plot.append('path')
      .datum(toPts(s))
      .attr('d', line)
      .attr('fill', 'none')
      .attr('stroke', COLORS[k])
      .attr('stroke-width', 1.2)
      .attr('stroke-linejoin', 'round');
  });

  /* axes — ticks inside, mirrored on top/right */
  g.append('g').attr('transform', `translate(0,${PH})`)
    .call(d3.axisBottom(x).tickValues(xTicks).tickSize(-4).tickPadding(6.5).tickFormat(d3.format('d')))
    .call(styleAxis);
  g.append('g').attr('transform', `translate(0,${PH})`)
    .call(d3.axisBottom(x).tickValues(xMinor).tickSize(-2).tickFormat(''))
    .call(styleAxis);
  g.append('g')
    .call(d3.axisTop(x).tickValues(xTicks.concat(xMinor)).tickSizeInner(-3).tickFormat(''))
    .call(styleAxis);
  const yl = g.append('g')
    .call(d3.axisLeft(y).tickValues(yTicks).tickSize(-4).tickPadding(5))
    .call(styleAxis);
  /* lift the "0" label a touch so it clears the first x label */
  yl.selectAll('.tick text').filter(d => d === 0).attr('dy', '0.14em');
  g.append('g')
    .call(d3.axisLeft(y).tickValues(yMinor).tickSize(-2).tickFormat(''))
    .call(styleAxis);
  g.append('g').attr('transform', `translate(${PW},0)`)
    .call(d3.axisRight(y).tickValues(yTicks).tickSize(-4).tickFormat(''))
    .call(styleAxis);
  g.append('g').attr('transform', `translate(${PW},0)`)
    .call(d3.axisRight(y).tickValues(yMinor).tickSize(-2).tickFormat(''))
    .call(styleAxis);

  g.append('rect')
    .attr('width', PW).attr('height', PH)
    .attr('fill', 'none')
    .attr('stroke', AXIS_CLR)
    .attr('stroke-width', 1);

  /* axis titles */
  if (ci === 0) {
    g.append('text')
      .attr('transform', `translate(-29,${PH / 2 - 8}) rotate(-90)`)
      .attr('text-anchor', 'middle')
      .attr('font-size', 16)
      .attr('fill', TXT_CLR)
      .text('Reflection (%)');
  }
  if (ri === 2) {
    g.append('text')
      .attr('x', PW / 2).attr('y', PH + 34)
      .attr('text-anchor', 'middle')
      .attr('font-size', 16)
      .attr('fill', TXT_CLR)
      .text('Wavelength (nm)');
  }
}));

/* ── Row labels (medium) ── */
const ROW_LBL_X = [61, 58, 51];
svg.append('g').selectAll('text')
  .data(media)
  .join('text')
  .attr('x', (d, i) => ROW_LBL_X[i])
  .attr('y', (d, i) => ROW_Y[i] + PH / 2 + 3)
  .attr('text-anchor', 'middle')
  .attr('font-size', 27)
  .attr('fill', '#111')
  .text(d => d);

/* ── Column labels (bilayers) ── */
const COL_LBL_X = [284, 578, 871, 1164];
svg.append('g').selectAll('text')
  .data(bilayers)
  .join('text')
  .attr('x', (d, i) => COL_LBL_X[i])
  .attr('y', 674)
  .attr('text-anchor', 'middle')
  .attr('font-size', 27)
  .attr('fill', '#111')
  .text(d => d);

/* ── Legend ── */
const leg = svg.append('g').attr('transform', 'translate(1306,14)');
const li = leg.selectAll('g')
  .data(angles)
  .join('g')
  .attr('transform', (d, i) => `translate(0,${i * 22.5})`);
li.append('line')
  .attr('x1', 0).attr('x2', 29)
  .attr('stroke', (d, i) => COLORS[i])
  .attr('stroke-width', 1.4);
const lt = li.append('text')
  .attr('x', 36).attr('y', 5)
  .attr('font-size', 14)
  .attr('fill', TXT_CLR);
lt.append('tspan').attr('font-style', 'italic').text('α');
lt.append('tspan').text(d => ` = ${d}°`);
</script>
</body>
</html>
